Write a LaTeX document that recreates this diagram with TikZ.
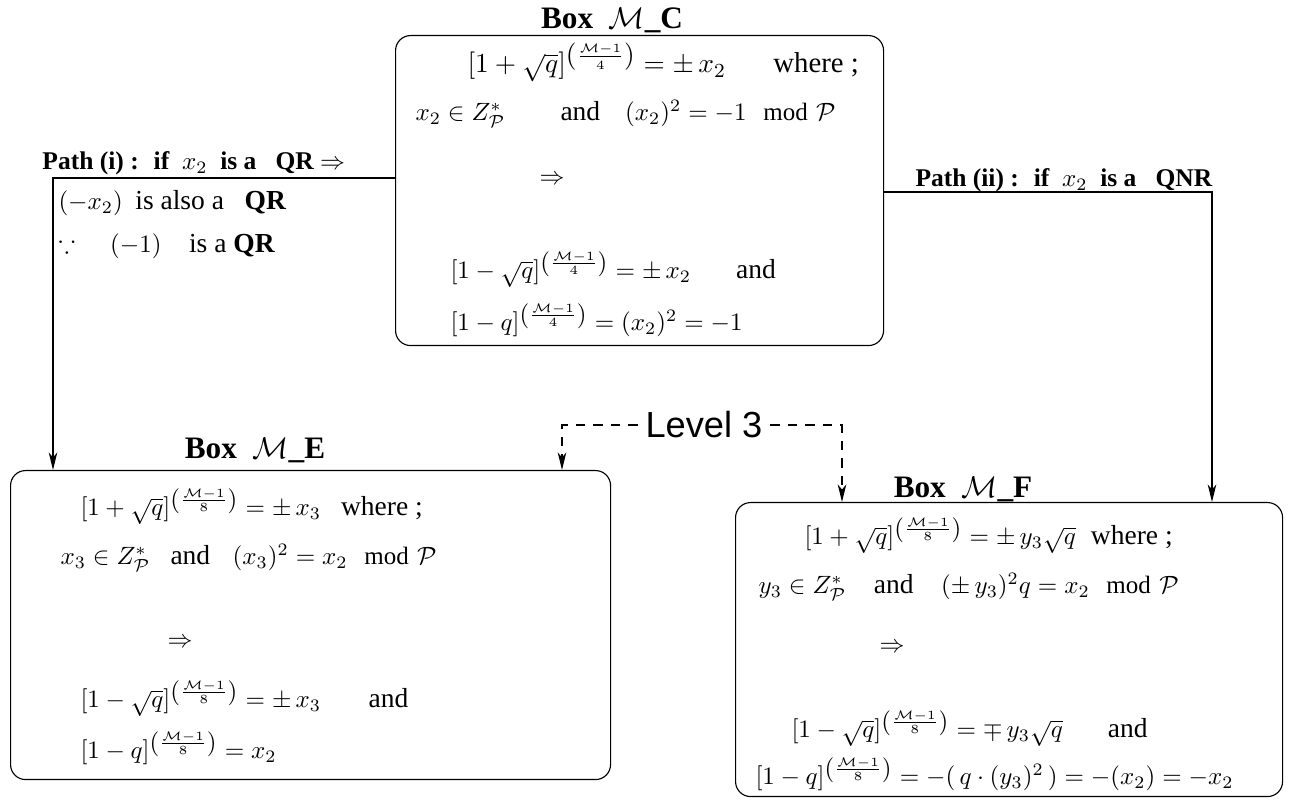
\documentclass[tikz,border=0pt]{standalone}
\usepackage{amsmath,amssymb}
\usepackage{fontspec}
\setmainfont{Liberation Serif}
\newfontfamily\lvlfont{Liberation Sans}
\usetikzlibrary{arrows.meta}
\newcommand{\ex}[1]{^{\left(\frac{\mathcal{M}-1}{#1}\right)}}
\newcommand{\tw}[1]{{\fontsize{11}{13}\selectfont #1}}
\begin{document}
\begin{tikzpicture}[x=0.4pt,y=-0.4pt,
  every node/.style={inner sep=0pt,font=\fontsize{10}{12}\selectfont},
  mbox/.style={draw,rounded corners=6pt,line width=0.45pt,anchor=north west,inner sep=0pt},
  ttl/.style={anchor=base,font=\fontsize{12.5}{14}\selectfont\bfseries},
  row/.style={anchor=base west},
  lbl/.style={anchor=base west,font=\fontsize{10.2}{12}\selectfont\bfseries},
  arr/.style={line width=0.45pt,-{Stealth[length=7pt,width=3.4pt,inset=2pt]}},
  dsh/.style={arr,dash pattern=on 3.8pt off 3.2pt}]
\useasboundingbox (0,0) rectangle (1293,804);
% boxes
\node (C) [mbox,minimum width=488*0.4pt,minimum height=310*0.4pt] at (395,35) {};
\node (E) [mbox,minimum width=600*0.4pt,minimum height=309*0.4pt] at (10,470) {};
\node (F) [mbox,minimum width=547*0.4pt,minimum height=294*0.4pt] at (735,502) {};
% titles
\node (tC) [ttl] at (612,29) {Box \ $\mathcal{M}$\_C};
\node (tE) [ttl] at (255,459) {Box \ $\mathcal{M}$\_E};
\node (tF) [ttl] at (963,498) {Box \ $\mathcal{M}$\_F};
% box C
\node (c1) [row,font=\fontsize{11}{13}\selectfont] at (467,73) {$[1+\sqrt{q}]\ex{4} = \pm\, x_2$\hspace{19pt}{\fontsize{11.5}{13}\selectfont where ;}};
\node (c2) [row] at (415,121) {$x_2 \in Z^*_{\mathcal{P}}$\hspace{22pt}\tw{and}\hspace{10pt}$(x_2)^2 = -1 \mod \mathcal{P}$};
\node (c3) at (552,180) {$\Rightarrow$};
\node (c4) [row] at (450,279) {$[1-\sqrt{q}]\ex{4} = \pm\, x_2$\hspace{18pt}\tw{and}};
\node (c5) [row] at (450,331) {$[1-q]\ex{4} = (x_2)^2 = -1$};
% box E
\node (e1) [row] at (80,516) {$[1+\sqrt{q}]\ex{8} = \pm\, x_3$\hspace{8pt}\tw{where ;}};
\node (e2) [row] at (60,565) {$x_3 \in Z^*_{\mathcal{P}}$\hspace{8pt}\tw{and}\hspace{9pt}$(x_3)^2 = x_2 \mod \mathcal{P}$};
\node (e3) at (180,643) {$\Rightarrow$};
\node (e4) [row] at (80,708) {$[1-\sqrt{q}]\ex{8} = \pm\, x_3$\hspace{19pt}\tw{and}};
\node (e5) [row] at (80,759) {$[1-q]\ex{8} = x_2$};
% box F
\node (f1) [row] at (804,545) {$[1+\sqrt{q}]\ex{8} = \pm\, y_3\sqrt{q}$\hspace{6pt}\tw{where ;}};
\node (f2) [row] at (758,594) {$y_3 \in Z^*_{\mathcal{P}}$\hspace{11pt}\tw{and}\hspace{11pt}$(\pm\, y_3)^2 q = x_2 \mod \mathcal{P}$};
\node (f3) at (892,648) {$\Rightarrow$};
\node (f4) [row] at (791,738) {$[1-\sqrt{q}]\ex{8} = \mp\, y_3\sqrt{q}$\hspace{18pt}\tw{and}};
\node (f5) [row] at (755,785) {$[1-q]\ex{8} = -(\,q\cdot(y_3)^2\,) = -(x_2) = -x_2$};
% path (i)
\node (p1) [lbl] at (42,170) {Path (i) : \ if \ $x_2$ \ is a \ \ QR $\Rightarrow$};
\node (p2) [row] at (58,210) {$(-x_2)$ \ \tw{is also a \ \ \textbf{QR}}};
\node (p3) [row] at (58,253) {$\because$\hspace{14pt}$(-1)$\hspace{11pt}\tw{is a \textbf{QR}}};
\coordinate (aS) at (395,178);
\coordinate (aK) at (53,178);
\draw[arr] (aS) -- (aK) -- (aK |- E.north);
% path (ii)
\node (q1) [lbl] at (915,187) {Path (ii) : \ if \ $x_2$ \ is a \ \ QNR};
\coordinate (bS) at (883,192);
\coordinate (bK) at (1212,192);
\draw[arr] (bS) -- (bK) -- (bK |- F.north);
% level 3
\node (L) [inner sep=3pt,font=\lvlfont\fontsize{14.5}{16}\selectfont] at (704,425) {Level 3};
\coordinate (dL) at (562,425);
\coordinate (dR) at (842,425);
\draw[dsh] (L.west) -- (dL) -- (dL |- E.north);
\draw[dsh] (L.east) -- (dR) -- (dR |- F.north);
\end{tikzpicture}
\end{document}
